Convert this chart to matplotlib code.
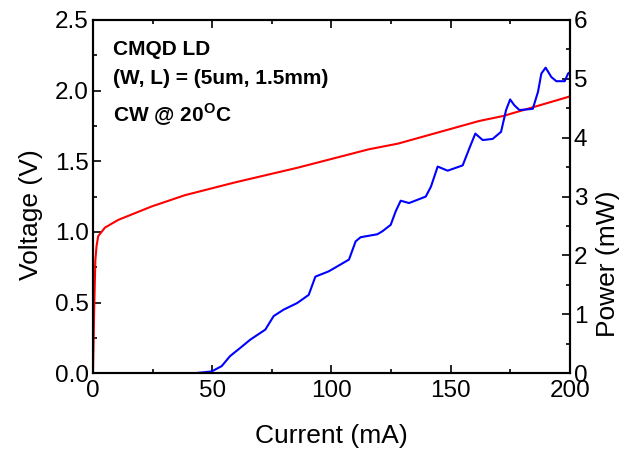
import matplotlib
matplotlib.use('Agg')
import matplotlib.pyplot as plt
from matplotlib.ticker import MultipleLocator

plt.rcParams['font.family'] = ['Liberation Sans', 'DejaVu Sans']
plt.rcParams['mathtext.fontset'] = 'custom'
plt.rcParams['mathtext.rm'] = 'Liberation Sans'
plt.rcParams['mathtext.bf'] = 'Liberation Sans:bold'

# voltage vs current (red)
v_current = [0, 0.5, 1.0, 1.5, 2.2, 5, 10.6, 24.6, 38.6, 59.5, 86, 115.8,
             128, 162, 172, 199.3, 200]
voltage = [0, 0.45, 0.80, 0.90, 0.97, 1.03, 1.085, 1.18, 1.26, 1.35, 1.455,
           1.585, 1.625, 1.785, 1.82, 1.955, 1.96]

# optical power vs current (blue)
p_current = [42.8, 49.8, 54, 57.5, 61.8, 66, 72.3, 75.8, 80, 85.6, 90.5,
             93.3, 98.9, 107.4, 110.2, 112.3, 119.3, 121.4, 124.9, 127,
             129.1, 132.6, 139.6, 141.8, 144.6, 148.8, 155.1, 157.9, 160.4,
             163.5, 167.7, 171.2, 173.3, 175, 176.8, 178.9, 184.5, 186.7,
             188.1, 189.9, 192.3, 194.4, 197.9, 199.3, 200]
power = [0, 0.03, 0.12, 0.29, 0.43, 0.57, 0.74, 0.97, 1.08, 1.19, 1.33,
         1.64, 1.73, 1.93, 2.24, 2.31, 2.36, 2.41, 2.52, 2.75,
         2.93, 2.89, 3.0, 3.17, 3.51, 3.44, 3.53, 3.82, 4.07,
         3.96, 3.98, 4.10, 4.47, 4.65, 4.55, 4.47, 4.49, 4.78,
         5.09, 5.19, 5.03, 4.96, 4.96, 5.09, 5.11]

fig = plt.figure(figsize=(6.24, 4.54), dpi=100)
ax = fig.add_axes([0.149, 0.178, 0.764, 0.778])
ax2 = ax.twinx()

ax.plot(v_current, voltage, color='#ff0000', lw=1.5)
ax2.plot(p_current, power, color='#0000ff', lw=1.5)

ax.set_xlim(0, 200)
ax.set_ylim(0, 2.5)
ax2.set_ylim(0, 6)

ax.xaxis.set_major_locator(MultipleLocator(50))
ax.xaxis.set_minor_locator(MultipleLocator(25))
ax.yaxis.set_major_locator(MultipleLocator(0.5))
ax.yaxis.set_minor_locator(MultipleLocator(0.25))
ax2.yaxis.set_major_locator(MultipleLocator(1))
ax2.yaxis.set_minor_locator(MultipleLocator(0.5))

ax.tick_params(axis='x', which='both', direction='in', top=True, labelsize=17.5, pad=5)
ax.tick_params(axis='y', which='both', direction='in', right=False, labelsize=17.5, pad=3)
ax.tick_params(which='major', length=6, width=1.2)
ax.tick_params(which='minor', length=3, width=1.2)
ax2.tick_params(which='both', direction='in', labelsize=17.5, width=1.2, pad=3)
ax2.tick_params(which='major', length=6)
ax2.tick_params(which='minor', length=3)

for a in (ax, ax2):
    for s in a.spines.values():
        s.set_linewidth(1.5)

ax.set_xlabel('Current (mA)', fontsize=19, labelpad=16)
ax.set_ylabel('Voltage (V)', fontsize=19)
ax.yaxis.set_label_coords(-0.105, 0.45)
ax2.set_ylabel('Power (mW)', fontsize=19)
ax2.yaxis.set_label_coords(1.055, 0.31)

ax.text(0.042, 0.901, 'CMQD LD', transform=ax.transAxes, fontsize=15,
        fontweight='bold')
ax.text(0.042, 0.82, '(W, L) = (5um, 1.5mm)', transform=ax.transAxes,
        fontsize=15, fontweight='bold')
ax.text(0.042, 0.711, r'CW @ 20$^{\mathbf{O}}$C', transform=ax.transAxes,
        fontsize=15, fontweight='bold')

fig.savefig('out.png', dpi=100)
